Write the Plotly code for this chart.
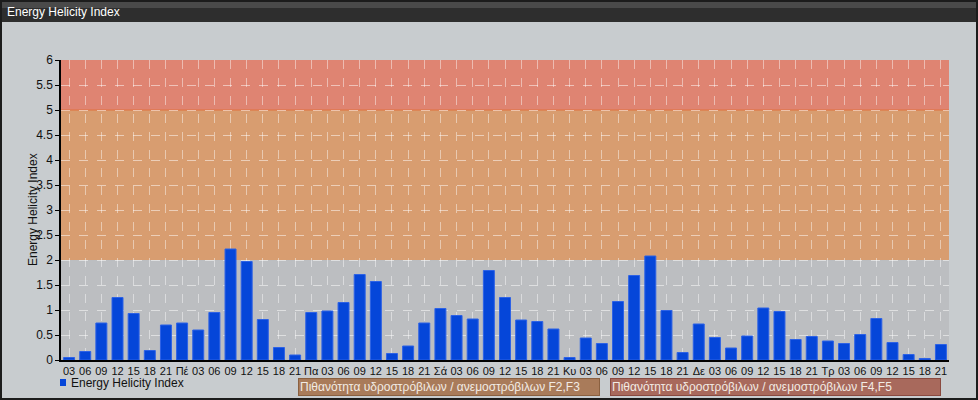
import plotly.graph_objects as go

tick_labels = ["03", "06", "09", "12", "15", "18", "21",
               "Πέ", "03", "06", "09", "12", "15", "18", "21",
               "Πα", "03", "06", "09", "12", "15", "18", "21",
               "Σά", "03", "06", "09", "12", "15", "18", "21",
               "Κυ", "03", "06", "09", "12", "15", "18", "21",
               "Δε", "03", "06", "09", "12", "15", "18", "21",
               "Τρ", "03", "06", "09", "12", "15", "18", "21"]

ehi_values = [0.05, 0.17, 0.74, 1.25, 0.93, 0.19, 0.70,
              0.74, 0.60, 0.95, 2.22, 1.97, 0.81, 0.25, 0.10,
              0.95, 0.98, 1.15, 1.71, 1.57, 0.13, 0.28, 0.74,
              1.03, 0.89, 0.82, 1.79, 1.25, 0.80, 0.77, 0.62,
              0.05, 0.44, 0.33, 1.17, 1.69, 2.08, 0.99, 0.15,
              0.72, 0.45, 0.24, 0.48, 1.04, 0.97, 0.41, 0.47,
              0.38, 0.33, 0.51, 0.83, 0.35, 0.11, 0.03, 0.31]

bands = [(0, 2, "#bcbec1"), (2, 5, "#d89d70"), (5, 6, "#df8472")]
band_labels = ["Πιθανότητα υδροστρόβιλων / ανεμοστρόβιλων F2,F3",
               "Πιθανότητα υδροστρόβιλων / ανεμοστρόβιλων F4,F5"]
series_name = "Energy Helicity Index"

x = list(range(len(ehi_values)))
FONT = "Liberation Sans, Arial, sans-serif"

W, H = 978, 400
L, R, T, B = 61, 29, 60, 40
PW, PH = W - L - R, H - T - B


def px(X):
    return (X - L) / PW


def py(Y):
    return (H - B - Y) / PH


fig = go.Figure()
fig.add_trace(go.Bar(
    x=x, y=ehi_values, name=series_name,
    marker=dict(color="#0546d9", line=dict(color="#2d62e6", width=1)),
    width=0.68, showlegend=False,
))

shapes = []
for y0, y1, c in bands:
    shapes.append(dict(type="rect", xref="paper", yref="y", x0=0, x1=1, y0=y0, y1=y1,
                       fillcolor=c, line=dict(width=0), layer="below"))
shapes.append(dict(type="line", xref="paper", yref="y", x0=0, x1=1, y0=5, y1=5,
                   line=dict(color="#e0703c", width=1), layer="below"))
# title bar
shapes.append(dict(type="rect", xref="paper", yref="paper", x0=px(0), x1=px(W), y0=py(0), y1=py(22),
                   fillcolor="#2e2e2e", line=dict(width=0), layer="below"))
shapes.append(dict(type="rect", xref="paper", yref="paper", x0=px(0), x1=px(W), y0=py(0), y1=py(8),
                   fillcolor="#4a4a4a", line=dict(width=0), layer="below"))
# outer frame
shapes.append(dict(type="rect", xref="paper", yref="paper", x0=px(1), x1=px(W - 1), y0=py(1), y1=py(H - 1),
                   fillcolor="rgba(0,0,0,0)", line=dict(color="#1c1c1c", width=2), layer="above"))
# legend marker
shapes.append(dict(type="rect", xref="paper", yref="paper", x0=px(60), x1=px(66), y0=py(379), y1=py(386),
                   fillcolor="#0546d9", line=dict(width=0), layer="above"))

fig.update_layout(
    width=W, height=H,
    margin=dict(l=L, r=R, t=T, b=B, autoexpand=False),
    paper_bgcolor="#c8cccf",
    plot_bgcolor="#c8cccf",
    font=dict(family=FONT, size=12, color="#111111"),
    showlegend=False,
    shapes=shapes,
    xaxis=dict(range=[-0.5, 54.5], tickmode="array", tickvals=x, ticktext=tick_labels,
               tickangle=0, automargin=False,
               showgrid=True, gridcolor="rgba(255,255,255,0.45)", griddash="dash", gridwidth=1,
               showline=True, linecolor="#000000", linewidth=1.5, ticks="",
               tickfont=dict(size=11, color="#111111"), zeroline=False, fixedrange=True),
    yaxis=dict(range=[0, 6], dtick=0.5, showgrid=True, gridcolor="rgba(255,255,255,0.5)",
               griddash="dash", gridwidth=1, showline=True, linecolor="#000000", linewidth=1.5,
               ticks="outside", ticklen=4, tickcolor="#000000", automargin=False,
               tickfont=dict(size=12, color="#111111"), zeroline=False, fixedrange=True),
    annotations=[
        dict(text="Energy Helicity Index", xref="paper", yref="paper", x=px(5), y=py(12),
             xanchor="left", yanchor="middle", showarrow=False,
             font=dict(size=12, color="#ffffff")),
        dict(text=series_name, xref="paper", yref="paper", x=px(33), y=0.5,
             xanchor="center", yanchor="middle", showarrow=False, textangle=-90,
             font=dict(size=12, color="#111111")),
        dict(text=series_name, xref="paper", yref="paper", x=px(69), y=py(383),
             xanchor="left", yanchor="middle", showarrow=False,
             font=dict(size=12, color="#111111")),
        dict(text=band_labels[0], xref="paper", yref="paper", x=px(298), y=py(378),
             xanchor="left", yanchor="top", showarrow=False, bgcolor="#a97b5a",
             bordercolor="#8a6040", borderwidth=1, borderpad=1, width=298, height=14, align="left",
             font=dict(size=12, color="#f2ebe4")),
        dict(text=band_labels[1], xref="paper", yref="paper", x=px(610), y=py(378),
             xanchor="left", yanchor="top", showarrow=False, bgcolor="#a8695c",
             bordercolor="#8a4a40", borderwidth=1, borderpad=1, width=327, height=14, align="left",
             font=dict(size=12, color="#f2ebe4")),
    ],
)

fig.write_html("out.html", config={"displayModeBar": False},
               post_script="document.body.style.margin='0';document.body.style.padding='0';")
